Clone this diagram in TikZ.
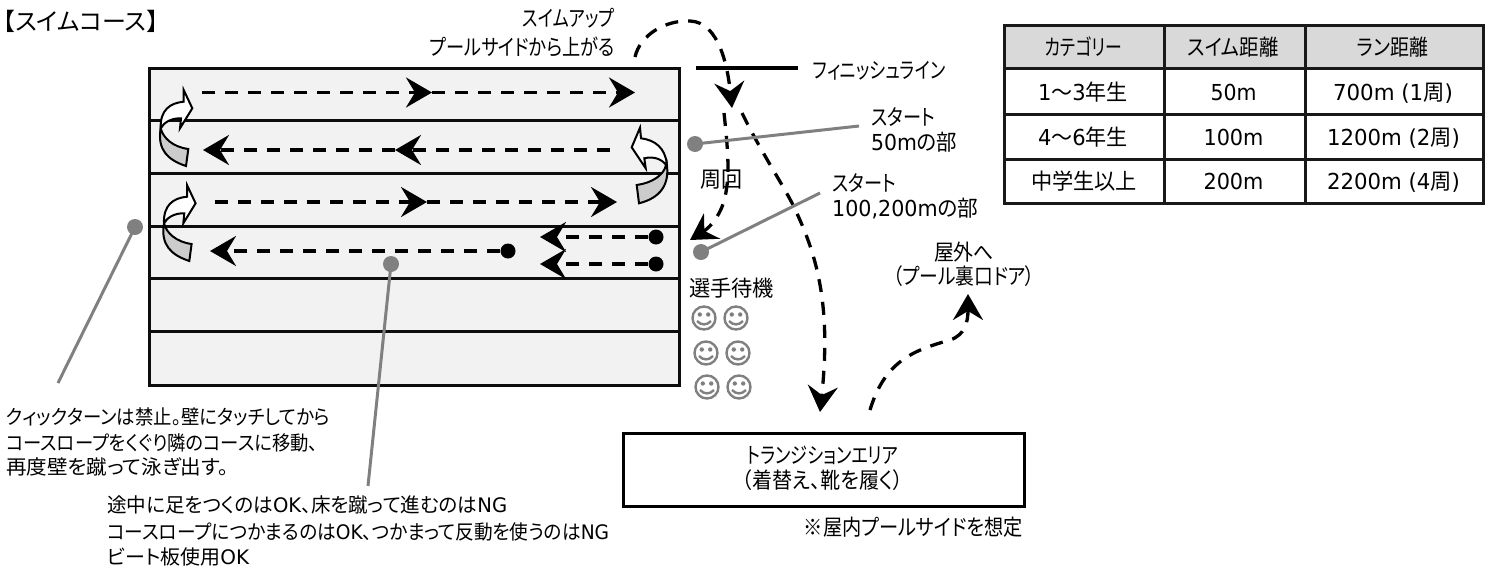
\documentclass[tikz,border=0pt]{standalone}
\usepackage{graphicx}
\usepackage{fontspec}
\usetikzlibrary{arrows.meta}
\setmainfont[RawFeature=+palt]{Noto Sans CJK JP}
\newfontfamily\latf{DejaVu Sans}
\newcommand{\lat}[1]{{\latf #1}}
\newcommand{\fw}[2]{\resizebox{#1pt}{\height}{#2}}
\definecolor{poolfill}{HTML}{F2F2F2}
\definecolor{headfill}{HTML}{D9D9D9}
\definecolor{turnfill}{HTML}{CCCCCC}
\definecolor{pointer}{HTML}{808080}
\tikzset{
  tl/.style={anchor=base west,inner sep=0pt,text=black,font=\fontsize{22}{26}\selectfont},
  tc/.style={anchor=base,inner sep=0pt,text=black,font=\fontsize{22}{26}\selectfont},
  tr/.style={anchor=base east,inner sep=0pt,text=black,font=\fontsize{22}{26}\selectfont},
  sm/.style={font=\fontsize{20}{24}\selectfont},
  route/.style={line width=3.3pt,dash pattern=on 13pt off 10pt,-{Stealth[length=26pt,width=30pt,inset=9pt]}},
  lane/.style={line width=3pt,draw=black!95},
  gdot/.style={circle,fill=pointer,minimum size=16pt,inner sep=0pt},
  bdot/.style={circle,fill=black,minimum size=15pt,inner sep=0pt},
  gline/.style={line width=3pt,draw=pointer},
  cellbox/.style={draw=black!90,line width=2.8pt,inner sep=0pt,anchor=north west},
  turn/.style={line width=2pt,line join=miter,draw=black},
  smile/.pic={
    \draw[pointer,line width=2.4pt] (0,0) circle (11.5);
    \fill[pointer] (-4.2,-3.5) circle (2.2) (4.2,-3.5) circle (2.2);
    \draw[pointer,line width=2.4pt] (-7,3) .. controls (-3,7.5) and (3,7.5) .. (7,3);
  },
  leftturn/.pic={
    \draw[turn,fill=turnfill] (20.7,68.3) .. controls (17,90) and (28,100) .. (46,106) -- (48.3,89) .. controls (33,87) and (23,78) .. (20.7,68.3) -- cycle;
    \draw[turn,fill=white] (20.7,68.3) .. controls (20,50) and (30,43) .. (43.7,41.7) -- (43.7,30) -- (52.3,48.3) -- (40,68.3) -- (41,58.3) .. controls (32,58) and (24,62) .. (20.7,68.3) -- cycle;
  },
  rightturn/.pic={
    \draw[turn,fill=turnfill] (186.7,103.3) .. controls (190,125) and (180,138) .. (159,143.3) -- (156.7,125) .. controls (172,123) and (184,115) .. (186,105) -- cycle;
    \draw[turn,fill=white] (186.7,103.3) .. controls (185,88) and (175,80) .. (161,78.3) -- (160,67.7) -- (151.7,87.3) -- (165.7,108.3) -- (164.3,98.3) .. controls (173,96) and (182,99) .. (186,105) -- cycle;
  },
}
\begin{document}
\begin{tikzpicture}[x=1pt,y=-1pt]
\useasboundingbox (0,0) rectangle (1487,568);

% pool
\node[draw=black!95,fill=poolfill,line width=3pt,minimum width=530pt,minimum height=317pt,inner sep=0pt,anchor=north west] (pool) at (148,67) {};
\foreach \yy in {120,173,226,278,331}{\draw[lane] (148,\yy) -- (678,\yy);}

% coordinates of the swim routes
\coordinate (a1) at (202,92.5); \coordinate (a2) at (432,92.5); \coordinate (a3) at (635,92.5);
\coordinate (b1) at (610,150); \coordinate (b2) at (395,150); \coordinate (b3) at (203,150);
\coordinate (c1) at (215,202); \coordinate (c2) at (427,202); \coordinate (c3) at (617,202);
\coordinate (e2) at (210,251);
\coordinate (f2) at (540,237); \coordinate (g2) at (540,264);
\node[bdot] (e1) at (508,251) {};
\node[bdot] (f1) at (656,237) {};
\node[bdot] (g1) at (656,264) {};

\draw[route] (a1) -- (a2);
\draw[route] (a2) -- (a3);
\draw[route] (b1) -- (b2);
\draw[route] (b2) -- (b3);
\draw[route] (c1) -- (c2);
\draw[route] (c2) -- (c3);
\draw[route] (e1) -- (e2);
\draw[route] (f1) -- (f2);
\draw[route] (g1) -- (g2);

% turns
\pic at (140,60) {leftturn};
\pic at (143.3,155) {leftturn};
\pic at (480,60) {rightturn};

% upper routes
\coordinate (u1) at (635,57); \coordinate (u2) at (690,21); \coordinate (u3) at (732,108);
\coordinate (v1) at (742,113); \coordinate (v2) at (792,203); \coordinate (v3) at (820,412);
\coordinate (w1) at (724,113); \coordinate (w2) at (725,197); \coordinate (w3) at (690,240);
\coordinate (x1) at (870,410); \coordinate (x2) at (950,340); \coordinate (x3) at (968,294);
\draw[line width=4.4pt,black] (696,68) -- (798,68);
\draw[route] (u1) .. controls (640,35) and (665,20) .. (u2) .. controls (720,22) and (728,70) .. (u3);
\draw[route] (v1) .. controls (760,150) and (780,180) .. (v2) .. controls (815,250) and (832,300) .. (v3);
\draw[route] (w1) .. controls (728,150) and (730,175) .. (w2) .. controls (722,212) and (712,226) .. (w3);
\draw[route] (x1) .. controls (885,360) and (915,350) .. (x2) .. controls (965,335) and (968,322) .. (x3);

% pointers
\node[gdot] (p1) at (135,227) {};
\node[gdot] (p2) at (391,264) {};
\node[gdot] (p3) at (695,144) {};
\node[gdot] (p4) at (701,252) {};
\coordinate (q1) at (58,383);
\coordinate (q2) at (368,486);
\coordinate (q3) at (859,126);
\coordinate (q4) at (820,193);
\draw[gline] (p1.center) -- (q1);
\draw[gline] (p2.center) -- (q2);
\draw[gline] (p3.center) -- (q3);
\draw[gline] (p4.center) -- (q4);

% labels
\node[tl,font=\fontsize{24}{28}\selectfont] (title) at (3,30) {【スイムコース】};
\node[tr] (up1) at (615,26) {\fw{92}{スイムアップ}};
\node[tr] (up2) at (615,55) {\fw{185}{プールサイドから上がる}};
\node[tl] (fin) at (813,78) {\fw{132}{フィニッシュライン}};
\node[tl] (s1a) at (871,125) {\fw{64}{スタート}};
\node[tl] (s1b) at (871,150) {\fw{86}{\lat{50m}の部}};
\node[tl] (s2a) at (832,191) {\fw{64}{スタート}};
\node[tl] (s2b) at (832,216) {\fw{146}{\lat{100,200m}の部}};
\node[tl] (lap) at (700,187) {\fw{42}{周回}};
\node[tl] (wait) at (689,296) {\fw{85}{選手待機}};
\node[tc] (out1) at (964,260) {\fw{60}{屋外へ}};
\node[tc] (out2) at (964,284) {\fw{142}{（プール裏口ドア）}};

% waiting swimmers
\pic at (704,318) {smile};
\pic at (736,318) {smile};
\pic at (706,353) {smile};
\pic at (738,353) {smile};
\pic at (707,387) {smile};
\pic at (739,387) {smile};

% transition area
\node[draw=black,line width=3pt,minimum width=401pt,minimum height=73pt,inner sep=0pt,anchor=north west] (trans) at (622,432) {};
\node[tc] (tr1) at (822.5,463) {\fw{151}{トランジションエリア}};
\node[tc] (tr2) at (822.5,488) {\fw{161}{（着替え、靴を履く）}};
\node[tr] (note) at (1023,535) {\fw{219}{※屋内プールサイドを想定}};

% notes
\node[tl,sm] (l1) at (6,424) {\fw{324}{クィックターンは禁止。壁にタッチしてから}};
\node[tl,sm] (l2) at (6,450) {\fw{312}{コースロープをくぐり隣のコースに移動、}};
\node[tl,sm] (l3) at (6,474) {\fw{222}{再度壁を蹴って泳ぎ出す。}};
\node[tl,sm] (m1) at (107,512) {\fw{400}{途中に足をつくのは\lat{OK}、床を蹴って進むのは\lat{NG}}};
\node[tl,sm] (m2) at (107,539) {\fw{502}{コースロープにつかまるのは\lat{OK}、つかまって反動を使うのは\lat{NG}}};
\node[tl,sm] (m3) at (107,564) {\fw{142}{ビート板使用\lat{OK}}};

% table
\node[cellbox,fill=headfill,minimum width=160pt,minimum height=43pt] (h1) at (1003,24) {};
\node[cellbox,fill=headfill,minimum width=141pt,minimum height=43pt] (h2) at (1163,24) {};
\node[cellbox,fill=headfill,minimum width=178pt,minimum height=43pt] (h3) at (1304,24) {};
\node[cellbox,minimum width=160pt,minimum height=46pt] (r11) at (1003,67) {};
\node[cellbox,minimum width=141pt,minimum height=46pt] (r12) at (1163,67) {};
\node[cellbox,minimum width=178pt,minimum height=46pt] (r13) at (1304,67) {};
\node[cellbox,minimum width=160pt,minimum height=45pt] (r21) at (1003,113) {};
\node[cellbox,minimum width=141pt,minimum height=45pt] (r22) at (1163,113) {};
\node[cellbox,minimum width=178pt,minimum height=45pt] (r23) at (1304,113) {};
\node[cellbox,minimum width=160pt,minimum height=44pt] (r31) at (1003,158) {};
\node[cellbox,minimum width=141pt,minimum height=44pt] (r32) at (1163,158) {};
\node[cellbox,minimum width=178pt,minimum height=44pt] (r33) at (1304,158) {};
\node[tc] (t01) at (1083.5,55) {\fw{77}{カテゴリー}};
\node[tc] (t02) at (1233,55) {\fw{91}{スイム距離}};
\node[tc] (t03) at (1392.5,55) {\fw{71}{ラン距離}};
\node[tc] (t11) at (1083,100) {\fw{90}{\lat{1}〜\lat{3}年生}};
\node[tc] (t12) at (1233.5,100) {\fw{46}{\lat{50m}}};
\node[tc] (t13) at (1393,100) {\fw{120}{\lat{700m (1}周\lat{)}}};
\node[tc] (t21) at (1083,145) {\fw{90}{\lat{4}〜\lat{6}年生}};
\node[tc] (t22) at (1233.5,145) {\fw{60}{\lat{100m}}};
\node[tc] (t23) at (1393.5,145) {\fw{133}{\lat{1200m (2}周\lat{)}}};
\node[tc] (t31) at (1084,189) {\fw{106}{中学生以上}};
\node[tc] (t32) at (1233.5,189) {\fw{60}{\lat{200m}}};
\node[tc] (t33) at (1393.5,189) {\fw{133}{\lat{2200m (4}周\lat{)}}};
\end{tikzpicture}
\end{document}
